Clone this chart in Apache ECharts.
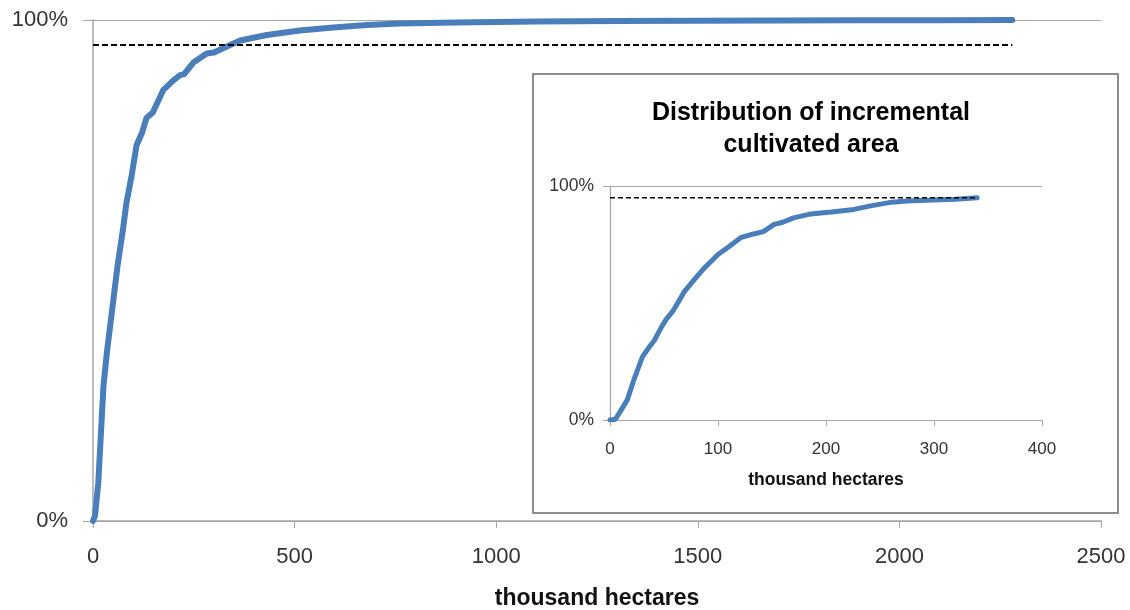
<!DOCTYPE html>
<html>
<head>
<meta charset="utf-8">
<script src="https://cdn.jsdelivr.net/npm/echarts@6/dist/echarts.min.js"></script>
<style>html,body{margin:0;padding:0;background:#fff}#c{width:1130px;height:610px}</style>
</head>
<body>
<div id="c"></div>
<script>
// Main chart: cumulative share vs. thousand hectares
const mainX = [0, 5, 13, 20, 26, 35, 48, 61, 74, 83, 96, 108, 122, 133, 148, 174, 200, 216, 226, 249, 282, 300, 332, 365, 431, 513, 596, 679, 761, 900, 1100, 1300, 1500, 1700, 1900, 2100, 2280];
const mainY = [0, 0.01, 0.075, 0.18, 0.27, 0.34, 0.425, 0.51, 0.58, 0.635, 0.69, 0.75, 0.776, 0.805, 0.815, 0.86, 0.88, 0.89, 0.892, 0.915, 0.933, 0.935, 0.947, 0.959, 0.97, 0.979, 0.985, 0.99, 0.993, 0.995, 0.997, 0.998, 0.9985, 0.999, 0.9993, 0.9996, 1.0];
// Inset: distribution of incremental cultivated area
const insetX = [0, 5, 10, 16, 22, 30, 36, 41, 48, 52, 58, 64, 69, 78, 86, 93, 100, 110, 121, 133, 142, 152, 160, 170, 184, 195, 205, 226, 240, 261, 275, 300, 320, 340];
const insetY = [0, 0.003, 0.04, 0.086, 0.17, 0.27, 0.31, 0.34, 0.40, 0.43, 0.464, 0.51, 0.55, 0.60, 0.643, 0.675, 0.707, 0.74, 0.779, 0.795, 0.805, 0.836, 0.845, 0.864, 0.879, 0.885, 0.889, 0.90, 0.914, 0.931, 0.936, 0.94, 0.943, 0.95];
// Threshold (95%) reference lines
const thresholdLevel = 0.95;
const mainThresholdEnd = 2280;
const insetThresholdEnd = 340;
// Axis ticks
const mainXTicks = [0, 500, 1000, 1500, 2000, 2500];
const insetXTicks = [0, 100, 200, 300, 400];
const yTickLabels = ['0%', '100%'];
const xAxisName = 'thousand hectares';
const insetTitle = 'Distribution of incremental\ncultivated area';

const zip = (xs, ys) => xs.map((x, i) => [x, ys[i]]);
const FONT = 'Liberation Sans';
const BLUE = '#4a7ebb';
const AXIS = '#a6a6a6';

const chart = echarts.init(document.getElementById('c'), null, {renderer: 'canvas'});
chart.setOption({
  animation: false,
  backgroundColor: '#fff',
  graphic: [{
    type: 'rect', z: -10, silent: true,
    shape: {x: 533, y: 74, width: 585, height: 439},
    style: {fill: '#fff', stroke: '#8c8c8c', lineWidth: 2}
  }],
  title: [{
    text: insetTitle,
    left: 806, top: 92, textAlign: 'center',
    textStyle: {fontFamily: FONT, fontWeight: 'bold', fontSize: 25, lineHeight: 32, color: '#000'}
  }],
  grid: [
    {left: 93, right: 29, top: 20, bottom: 89, containLabel: false, outerBoundsMode: 'none'},
    {left: 610, right: 88, top: 186, bottom: 190, containLabel: false, outerBoundsMode: 'none'}
  ],
  xAxis: [
    {
      gridIndex: 0, type: 'value', min: mainXTicks[0], max: mainXTicks[mainXTicks.length - 1], interval: 500,
      name: xAxisName, nameLocation: 'middle', nameGap: 66,
      nameTextStyle: {fontFamily: FONT, fontWeight: 'bold', fontSize: 23, color: '#111'},
      axisLine: {show: true, lineStyle: {color: AXIS, width: 1.5}},
      axisTick: {show: true, length: 7, inside: false, lineStyle: {color: AXIS}},
      axisLabel: {margin: 25, fontFamily: FONT, fontSize: 22, color: '#333', formatter: v => String(v)},
      splitLine: {show: false}
    },
    {
      gridIndex: 1, type: 'value', min: insetXTicks[0], max: insetXTicks[insetXTicks.length - 1], interval: 100,
      name: xAxisName, nameLocation: 'middle', nameGap: 51,
      nameTextStyle: {fontFamily: FONT, fontWeight: 'bold', fontSize: 17.5, color: '#111'},
      axisLine: {show: true, lineStyle: {color: AXIS, width: 1.2}},
      axisTick: {show: true, length: 6, lineStyle: {color: AXIS}},
      axisLabel: {margin: 21, fontFamily: FONT, fontSize: 17, color: '#333', formatter: v => String(v)},
      splitLine: {show: false}
    }
  ],
  yAxis: [
    {
      gridIndex: 0, type: 'value', min: 0, max: 1, interval: 1,
      axisLine: {show: true, lineStyle: {color: AXIS, width: 1.5}},
      axisTick: {show: true, length: 10, lineStyle: {color: AXIS}},
      axisLabel: {margin: 25, fontFamily: FONT, fontSize: 22, color: '#333',
        formatter: v => yTickLabels[v]},
      splitLine: {show: true, lineStyle: {color: AXIS, width: 1.2}}
    },
    {
      gridIndex: 1, type: 'value', min: 0, max: 1, interval: 1,
      axisLine: {show: true, lineStyle: {color: AXIS, width: 1.2}},
      axisTick: {show: true, length: 7, lineStyle: {color: AXIS}},
      axisLabel: {margin: 16, fontFamily: FONT, fontSize: 17.5, color: '#333',
        formatter: v => yTickLabels[v]},
      splitLine: {show: true, lineStyle: {color: AXIS, width: 1}}
    }
  ],
  series: [
    {
      type: 'line', xAxisIndex: 0, yAxisIndex: 0, z: 3,
      data: [[0, thresholdLevel], [mainThresholdEnd, thresholdLevel]],
      showSymbol: false, lineStyle: {color: '#000', width: 2, type: [6, 3]}
    },
    {
      type: 'line', xAxisIndex: 0, yAxisIndex: 0, z: 2,
      data: zip(mainX, mainY), showSymbol: false, smooth: false,
      lineStyle: {color: BLUE, width: 6, cap: 'round', join: 'round'}
    },
    {
      type: 'line', xAxisIndex: 1, yAxisIndex: 1, z: 3,
      data: [[0, thresholdLevel], [insetThresholdEnd, thresholdLevel]],
      showSymbol: false, lineStyle: {color: '#000', width: 1.6, type: [5, 3]}
    },
    {
      type: 'line', xAxisIndex: 1, yAxisIndex: 1, z: 2,
      data: zip(insetX, insetY), showSymbol: false, smooth: false,
      lineStyle: {color: BLUE, width: 5, cap: 'round', join: 'round'}
    }
  ]
});
</script>
</body>
</html>
